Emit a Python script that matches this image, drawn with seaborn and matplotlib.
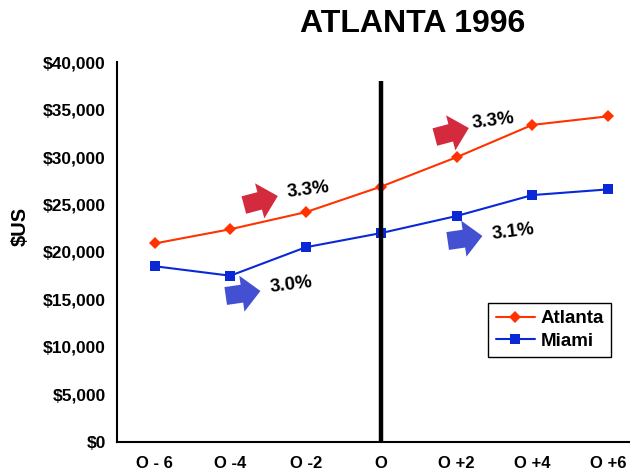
import numpy as np
import pandas as pd
import matplotlib
matplotlib.use("Agg")
import matplotlib.pyplot as plt
import seaborn as sns

# Period labels around the Olympic year (O)
periods = ["O - 6", "O -4", "O -2", "O", "O +2", "O +4", "O +6"]

# Per-capita income, $US
atlanta = [20900, 22400, 24200, 26900, 30000, 33400, 34300]
miami = [18500, 17500, 20500, 22000, 23800, 26000, 26600]

# Annual growth rates shown next to the arrows
growth_labels = ["3.3%", "3.3%", "3.0%", "3.1%"]

title = "ATLANTA 1996"
y_ticks = [0, 5000, 10000, 15000, 20000, 25000, 30000, 35000, 40000]

sns.set_style("white")
plt.rcParams["font.family"] = ["Liberation Sans", "DejaVu Sans"]
plt.rcParams["font.weight"] = "bold"
for key in ("text.color", "axes.labelcolor", "xtick.color", "ytick.color",
            "xtick.labelcolor", "ytick.labelcolor"):
    plt.rcParams[key] = "black"

df = pd.DataFrame({
    "pos": list(range(len(periods))) * 2,
    "income": atlanta + miami,
    "city": ["Atlanta"] * len(periods) + ["Miami"] * len(periods),
})

fig = plt.figure(figsize=(6.3, 4.73), dpi=100)
ax = fig.add_axes([117 / 630, 31.3 / 473, 528.5 / 630, 379.4 / 473])

palette = {"Atlanta": "#FF3300", "Miami": "#0A28D8"}
sns.lineplot(
    data=df, x="pos", y="income", hue="city", style="city",
    markers={"Atlanta": "D", "Miami": "s"}, dashes=False,
    palette=palette, linewidth=1.5, markeredgewidth=0,
    ax=ax, zorder=3,
)
for line in ax.lines:
    if line.get_marker() == "D":
        line.set_markersize(6.5)
    else:
        line.set_markersize(7.5)

# Olympic year marker
ax.plot([3, 3], [0, 38000], color="black", linewidth=3.2, zorder=4,
        solid_capstyle="butt")

ax.set_xlim(-0.5, 6.5)
ax.set_ylim(0, 40000)
ax.set_xticks(range(len(periods)))
ax.set_xticklabels(periods)
ax.set_xticks(np.arange(-0.5, 7, 1.0), minor=True)
ax.tick_params(axis="x", which="major", length=0, pad=10.5, labelsize=12,
               labelcolor="black")
ax.tick_params(axis="x", which="minor", length=4, width=1.5, direction="out",
               color="black")
ax.set_yticks(y_ticks)
ax.set_yticklabels([f"${v:,.0f}" for v in y_ticks])
ax.tick_params(axis="y", which="major", length=4, width=1.5, direction="out",
               color="black", labelcolor="black", pad=4, labelsize=12.5)
for lab in ax.get_xticklabels() + ax.get_yticklabels():
    lab.set_fontweight("bold")

sns.despine(ax=ax)
for side in ("left", "bottom"):
    ax.spines[side].set_linewidth(1.5)
    ax.spines[side].set_color("black")

ax.set_xlabel("")
ax.set_ylabel("$US", fontsize=14.5, fontweight="bold", color="black")
ax.yaxis.set_label_coords((30 - 117) / 528.5, (441.7 - 226) / 379.4)

# Growth arrows and rates
red = "#D42A3E"
blue = "#4450D2"
arrows = [
    ((1.18, 24950), (1.63, 25900), red),
    ((3.71, 32120), (4.16, 33070), red),
    ((0.94, 15360), (1.40, 15890), blue),
    ((3.88, 21160), (4.34, 21690), blue),
]
for tail, tip, col in arrows:
    ax.annotate(
        "", xy=tip, xytext=tail,
        arrowprops=dict(
            arrowstyle="simple,head_length=0.75,head_width=1.45,tail_width=0.72",
            mutation_scale=18, color=col, lw=0, shrinkA=0, shrinkB=0,
        ),
        zorder=5,
    )

label_pos = [(2.04, 26520), (4.49, 33810), (1.81, 16520), (4.75, 22110)]
for (lx, ly), txt in zip(label_pos, growth_labels):
    ax.text(lx, ly, txt, fontsize=13.5, fontweight="bold", ha="center",
            va="center", rotation=7, zorder=6, color="black")

handles, labels = ax.get_legend_handles_labels()
ax.get_legend().remove()
leg = ax.legend(
    handles, labels, loc="upper left",
    bbox_to_anchor=(488 / 630, 1 - 302.5 / 473), bbox_transform=fig.transFigure,
    frameon=True, fancybox=False, framealpha=1, edgecolor="black",
    prop={"weight": "bold", "size": 13.5},
    handlelength=2.1, handletextpad=0.3, borderpad=0.4, labelspacing=0.3,
    borderaxespad=0, labelcolor="black",
)
leg.get_frame().set_linewidth(1.0)

fig.text(413 / 630, 1 - 32.3 / 473, title, ha="center", va="baseline",
         fontsize=23, fontweight="bold", color="black")

fig.savefig("out.png", dpi=100)
